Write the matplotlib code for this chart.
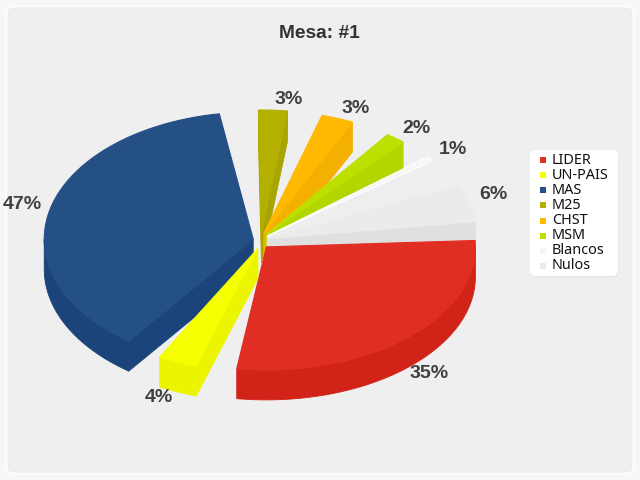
import numpy as np
import matplotlib
matplotlib.use('Agg')
import matplotlib.pyplot as plt
from matplotlib.patches import Polygon, FancyBboxPatch, Rectangle

categories = ['LIDER', 'UN-PAIS', 'MAS', 'M25', 'CHST', 'MSM', 'Blancos', 'Nulos']
shares = [35.3, 3.8, 46.8, 2.8, 3.1, 1.9, 0.8, 6.0]
top_colors = ['#e02e24', '#f5ff00', '#245086', '#b3b000', '#ffb900', '#bde000', '#f6f6f6', '#ebebeb']
side_colors = ['#d22318', '#ebf500', '#1a447a', '#a9a500', '#f4b000', '#b2d600', '#eeeeee', '#e0e0e0']
legend_colors = ['#e02e24', '#f5ff00', '#245086', '#b3b000', '#ffb900', '#bde000', '#f5f5f5', '#ebebeb']

cx, cy = 261, 241
rx, ry = 209, 123
depth = 30
explode = 8
# angle left open after each slice
gaps = [9, 8.5, 8.5, 9, 10.5, 9, 12.5, 5]
start = -3
# the big slice sits a little taller than the rest
ry_extra = {'MAS': 4}


def arc(x0, y0, t0, t1, h):
    t = np.radians(np.linspace(t0, t1, 60))
    return np.column_stack([x0 + rx * np.cos(t), y0 + h * np.sin(t)])


def face(pts, color, z):
    ax.add_patch(Polygon(pts, closed=True, fc=color, ec=color, lw=0.6, zorder=z))


fig = plt.figure(figsize=(6.4, 4.8), dpi=100, facecolor='#f7f7f7')
ax = fig.add_axes([0, 0, 1, 1])
ax.set_xlim(0, 640)
ax.set_ylim(480, 0)
ax.axis('off')

ax.add_patch(FancyBboxPatch((6, 6), 628, 468, boxstyle='round,pad=0,rounding_size=8',
                            fc='#efefef', ec='#fcfcfc', lw=2, zorder=0))

total = sum(shares)
span_total = 360 - sum(gaps)
t0 = start
slices = []
for i, share in enumerate(shares):
    t1 = t0 + share / total * span_total
    slices.append((i, t0, t1))
    t0 = t1 + gaps[i]

# back slices first
slices.sort(key=lambda s: np.sin(np.radians((s[1] + s[2]) / 2)))

for z, (i, t0, t1) in enumerate(slices):
    mid = np.radians((t0 + t1) / 2)
    ax0 = cx + explode * np.cos(mid)
    ay0 = cy + explode * np.sin(mid)
    h = ry + ry_extra.get(categories[i], 0)
    rim = arc(ax0, ay0, t0, t1, h)
    down = np.array([0, depth])
    apex = np.array([ax0, ay0])
    base = 2 + z * 3

    # radial faces that look towards the viewer
    if np.cos(np.radians(t0)) < 0:
        face([apex, rim[0], rim[0] + down, apex + down], side_colors[i], base)
    if np.cos(np.radians(t1)) > 0:
        face([apex, rim[-1], rim[-1] + down, apex + down], side_colors[i], base)

    # outer wall, only the front half of the ellipse shows
    for k in (0, 360):
        a, b = max(t0, k), min(t1, k + 180)
        if b > a:
            wall = arc(ax0, ay0, a, b, h)
            face(np.vstack([wall, (wall + down)[::-1]]), side_colors[i], base + 1)

    ec = '#ffffff' if categories[i] == 'Blancos' else top_colors[i]
    ax.add_patch(Polygon(np.vstack([apex, rim]), closed=True, fc=top_colors[i], ec=ec,
                         lw=0.8, zorder=base + 2))

    # percent label outside the rim
    c, s = np.cos(mid), np.sin(mid)
    lx = ax0 + rx * c + np.sign(c) * (15 + 10 * abs(c))
    if s > 0:
        ly = ay0 + h * s + depth + 6
    else:
        ly = ay0 + h * s - 11 + 2 * abs(c)
        if c < 0:
            lx -= 3
            ly += 4
    ax.text(lx, ly, '%d%%' % round(shares[i]), ha='center', va='center', fontsize=14,
            fontweight='bold', family='Liberation Sans', color='#404040', zorder=50)

ax.text(319, 34, 'Mesa: #1', ha='center', va='center', fontsize=13.8, fontweight='bold',
        family='Liberation Sans', color='#333333', zorder=50)

# legend
ax.add_patch(FancyBboxPatch((531, 151), 88, 126, boxstyle='round,pad=0,rounding_size=6',
                            fc='#e6e6e6', ec='none', zorder=59))
ax.add_patch(FancyBboxPatch((530, 150), 88, 126, boxstyle='round,pad=0,rounding_size=6',
                            fc='#ffffff', ec='none', zorder=60))
for i, name in enumerate(categories):
    y = 160 + i * 15.14
    ax.add_patch(Rectangle((540, y - 3), 6, 6, fc=legend_colors[i], ec='none', zorder=61))
    ax.text(552, y, name, ha='left', va='center', fontsize=10.4, family='Noto Sans',
            color='#111111', zorder=61)

fig.savefig('out.png', dpi=100, facecolor=fig.get_facecolor())
